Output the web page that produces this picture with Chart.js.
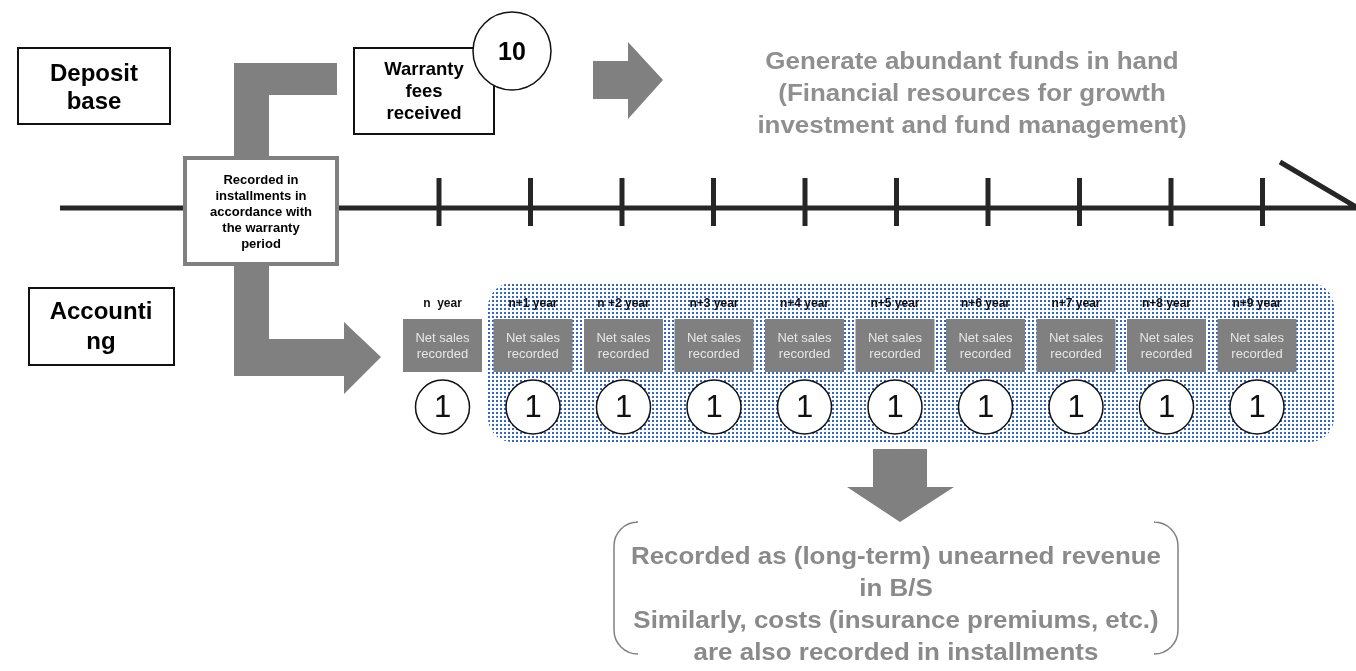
<!DOCTYPE html>
<html>
<head>
<meta charset="utf-8">
<title>Warranty fee accounting</title>
<script src="https://cdn.jsdelivr.net/npm/chart.js"></script>
<style>
  html, body { margin: 0; padding: 0; background: #ffffff; }
  #diagram { display: block; }
</style>
</head>
<body>
<canvas id="diagram" width="1356" height="671"></canvas>
<script>
// data
const yearLabels = ['n  year', 'n+1 year', 'n +2 year', 'n+3 year', 'n+4 year',
                    'n+5 year', 'n+6 year', 'n+7 year', 'n+8 year', 'n+9 year'];
const installmentValues = [1, 1, 1, 1, 1, 1, 1, 1, 1, 1];
const totalFee = 10;
const boxLabel = ['Net sales', 'recorded'];
const depositLabel = ['Deposit', 'base'];
const accountingLabel = ['Accounti', 'ng'];
const feeLabel = ['Warranty', 'fees', 'received'];
const periodLabel = ['Recorded in', 'installments in', 'accordance with', 'the warranty', 'period'];
const fundsLabel = ['Generate abundant funds in hand', '(Financial resources for growth',
                    'investment and fund management)'];
const noteLabel = ['Recorded as (long-term) unearned revenue', 'in B/S',
                   'Similarly, costs (insurance premiums, etc.)', 'are also recorded in installments'];

// layout (canvas pixel space)
const colX0 = 442.5, colStep = 90.5;
const tickX0 = 439, tickStep = 91.5;
const FONT = '"Liberation Sans", Arial, sans-serif';
const GREY = '#808080';

document.addEventListener('DOMContentLoaded', function () {
    const ctx = document.getElementById('diagram').getContext('2d');

    const tile = document.createElement('canvas');
    tile.width = 4; tile.height = 4;
    const tctx = tile.getContext('2d');
    tctx.fillStyle = '#3167c6';
    tctx.fillRect(0, 0, 2, 2);
    const dots = ctx.createPattern(tile, 'repeat');

    function poly(c, pts, fill) {
        c.beginPath();
        pts.forEach((p, i) => i ? c.lineTo(p[0], p[1]) : c.moveTo(p[0], p[1]));
        c.closePath();
        c.fillStyle = fill;
        c.fill();
    }

    // centred text lines, sx stretches the glyphs sideways
    function lines(c, arr, x, y0, gap, font, color, sx) {
        c.font = font;
        c.fillStyle = color;
        c.textAlign = 'center';
        c.textBaseline = 'middle';
        arr.forEach((t, i) => {
            c.save();
            c.translate(x, y0 + i * gap);
            c.scale(sx || 1, 1);
            c.fillText(t, 0, 0);
            c.restore();
        });
    }

    const backdrop = {
        id: 'backdrop',
        beforeDatasetsDraw(chart) {
            const c = chart.ctx;
            const X = v => chart.scales.x.getPixelForValue(v);
            const Y = v => chart.scales.y.getPixelForValue(v);
            c.save();

            // dotted area behind years n+1 .. n+9
            c.beginPath();
            c.roundRect(X(488), Y(283), X(1334) - X(488), Y(442) - Y(283), 24);
            c.fillStyle = dots;
            c.fill();

            // timeline
            c.strokeStyle = '#262626';
            c.lineWidth = 5;
            c.beginPath();
            c.moveTo(X(60), Y(208));
            c.lineTo(X(1356), Y(208));
            c.moveTo(X(1280), Y(162));
            c.lineTo(X(1358), Y(208));
            c.stroke();

            // L shaped arrow
            poly(c, [[X(234), Y(63)], [X(337), Y(63)], [X(337), Y(95)], [X(269), Y(95)],
                     [X(269), Y(339)], [X(344), Y(339)], [X(344), Y(322)], [X(381), Y(357)],
                     [X(344), Y(394)], [X(344), Y(376)], [X(234), Y(376)]], GREY);

            // right arrow
            poly(c, [[X(593), Y(61)], [X(628), Y(61)], [X(628), Y(42)], [X(663), Y(80)],
                     [X(628), Y(119)], [X(628), Y(99)], [X(593), Y(99)]], GREY);

            // down arrow
            poly(c, [[X(873), Y(449)], [X(927), Y(449)], [X(927), Y(487)], [X(954), Y(487)],
                     [X(900), Y(522)], [X(847), Y(487)], [X(873), Y(487)]], GREY);

            // period box
            c.fillStyle = '#ffffff';
            c.fillRect(X(183), Y(156), 156, 110);
            c.strokeStyle = GREY;
            c.lineWidth = 4;
            c.strokeRect(X(185), Y(158), 152, 106);

            // label boxes
            c.lineWidth = 2;
            c.strokeStyle = '#111111';
            c.fillStyle = '#ffffff';
            [[17, 47, 154, 78], [28, 287, 147, 79], [353, 47, 142, 88]].forEach(b => {
                c.fillRect(X(b[0]), Y(b[1]), b[2], b[3]);
                c.strokeRect(X(b[0]) + 1, Y(b[1]) + 1, b[2] - 2, b[3] - 2);
            });

            // net sales boxes
            yearLabels.forEach((_, i) => {
                const cx = X(colX0 + i * colStep);
                c.fillStyle = GREY;
                c.fillRect(cx - 39.5, Y(319), 79, 53);
            });

            // bracket around the note
            c.strokeStyle = GREY;
            c.lineWidth = 1.5;
            c.beginPath();
            c.moveTo(X(636), Y(522));
            c.arcTo(X(614), Y(522), X(614), Y(545), 24);
            c.lineTo(X(614), Y(630));
            c.arcTo(X(614), Y(654), X(636), Y(654), 24);
            c.moveTo(X(1155), Y(522));
            c.arcTo(X(1178), Y(522), X(1178), Y(545), 24);
            c.lineTo(X(1178), Y(630));
            c.arcTo(X(1178), Y(654), X(1155), Y(654), 24);
            c.stroke();
            c.restore();
        },
        afterDatasetsDraw(chart) {
            const c = chart.ctx;
            const X = v => chart.scales.x.getPixelForValue(v);
            const Y = v => chart.scales.y.getPixelForValue(v);
            c.save();
            lines(c, depositLabel, X(94), Y(74), 28, 'bold 24px ' + FONT, '#000');
            lines(c, accountingLabel, X(101), Y(312), 30, 'bold 24px ' + FONT, '#000');
            lines(c, feeLabel, X(424), Y(70), 22, 'bold 18.5px ' + FONT, '#000');
            lines(c, periodLabel, X(261), Y(180), 16, 'bold 13px ' + FONT, '#000');
            lines(c, fundsLabel, X(972), Y(62), 32, 'bold 24px ' + FONT, '#8f8f8f', 1.08);
            lines(c, noteLabel, X(896), Y(557), 32, 'bold 24px ' + FONT, '#8a8a8a', 1.08);

            // total fee inside its circle
            const fee = chart.getDatasetMeta(2).data[0];
            lines(c, [String(totalFee)], fee.x, fee.y + 2, 0, 'bold 25px ' + FONT, '#000');

            // years, box captions and installment values
            const meta = chart.getDatasetMeta(1);
            meta.data.forEach((pt, i) => {
                lines(c, [yearLabels[i]], pt.x, Y(304), 0, 'bold 12px ' + FONT, '#111');
                lines(c, boxLabel, pt.x, Y(338), 16, '13px ' + FONT, '#e6e6e6');
                lines(c, [String(installmentValues[i])], pt.x, pt.y + 1, 0, '31px ' + FONT, '#111');
            });
            c.restore();
        }
    };

    new Chart(ctx, {
        type: 'scatter',
        data: {
            datasets: [{
                label: 'Year ticks',
                data: yearLabels.map((_, i) => ({ x: tickX0 + i * tickStep, y: 202 })),
                pointStyle: 'line',
                rotation: 90,
                radius: 24,
                hoverRadius: 24,
                borderColor: '#262626',
                borderWidth: 5,
            }, {
                label: 'Installments',
                data: installmentValues.map((v, i) => ({ x: colX0 + i * colStep, y: 407 })),
                pointStyle: 'circle',
                radius: 27,
                hoverRadius: 27,
                backgroundColor: '#ffffff',
                borderColor: '#111111',
                borderWidth: 1.5,
            }, {
                label: 'Warranty fee',
                data: [{ x: 512, y: 51 }],
                pointStyle: 'circle',
                radius: 39,
                hoverRadius: 39,
                backgroundColor: '#ffffff',
                borderColor: '#111111',
                borderWidth: 1.5,
            }]
        },
        options: {
            responsive: false,
            animation: false,
            events: [],
            devicePixelRatio: 1,
            layout: { padding: 0, autoPadding: false },
            scales: {
                x: { type: 'linear', min: 0, max: 1356, display: false },
                y: { type: 'linear', min: 0, max: 671, reverse: true, display: false }
            },
            plugins: {
                legend: { display: false },
                tooltip: { enabled: false }
            }
        },
        plugins: [backdrop]
    });
});
</script>
</body>
</html>
